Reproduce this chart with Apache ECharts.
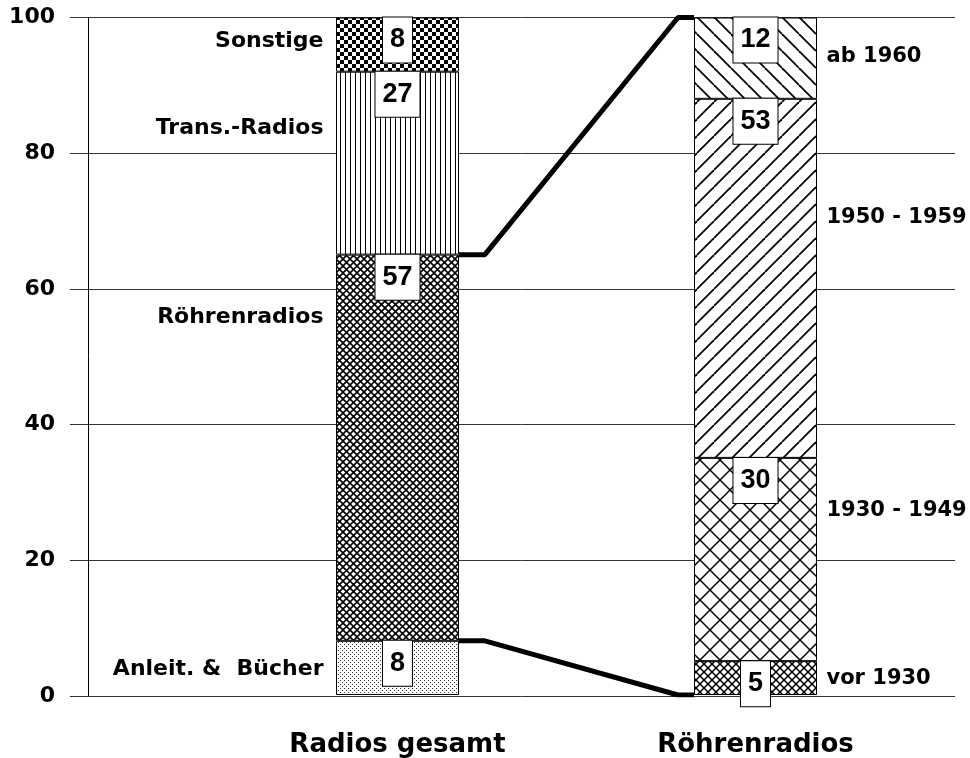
<!DOCTYPE html>
<html>
<head>
<meta charset="utf-8">
<script src="https://cdn.jsdelivr.net/npm/echarts@6/dist/echarts.min.js"></script>
<style>
  html, body { margin: 0; padding: 0; background: #fff; }
  #chart { width: 970px; height: 758px; }
</style>
</head>
<body>
<div id="chart"></div>
<script>
// Daten
const categories = ['Radios gesamt', 'Röhrenradios'];
const gesamtNames = ['Anleit. &  Bücher', 'Röhrenradios', 'Trans.-Radios', 'Sonstige'];
const gesamtValues = [8, 57, 27, 8];
const roehrenNames = ['vor 1930', '1930 - 1949', '1950 - 1959', 'ab 1960'];
const roehrenValues = [5, 30, 53, 12];
const yTicks = [0, 20, 40, 60, 80, 100];

// Beschriftungs-Höhen neben den Balken (Layout)
const gesamtLabelY = [3.8, 55.7, 83.6, 96.5];
const roehrenLabelY = [2.4, 27.2, 70.4, 94.3];
// Verbindungslinien: x-Positionen (Balkenrand, Knick, Knick, Balkenrand)
const linkX = [0.1718, 0.244, 0.7835, 0.8282];

const FONT = 'DejaVu Sans';

// Schraffur-Muster
function tile(size, draw) {
  const c = document.createElement('canvas');
  c.width = size; c.height = size;
  const ctx = c.getContext('2d');
  ctx.fillStyle = '#fff';
  ctx.fillRect(0, 0, size, size);
  ctx.fillStyle = '#000';
  ctx.strokeStyle = '#000';
  draw(ctx, size);
  return { image: c, repeat: 'repeat' };
}
function slash(ctx, s, w) {
  ctx.lineWidth = w;
  for (const k of [-s, 0, s]) {
    ctx.beginPath(); ctx.moveTo(k, s); ctx.lineTo(k + s, 0); ctx.stroke();
  }
}
function backslash(ctx, s, w) {
  ctx.lineWidth = w;
  for (const k of [-s, 0, s]) {
    ctx.beginPath(); ctx.moveTo(k, 0); ctx.lineTo(k + s, s); ctx.stroke();
  }
}
const patDots = tile(4, (ctx) => { ctx.fillStyle = '#333'; ctx.fillRect(0, 0, 1, 1); ctx.fillRect(2, 2, 1, 1); });
const patFineCross = tile(7, (ctx, s) => { slash(ctx, s, 1.6); backslash(ctx, s, 1.6); });
const patVert = tile(5, (ctx) => { ctx.fillRect(0, 0, 1, 5); });
const patChecker = tile(8, (ctx) => { ctx.fillRect(0, 0, 4, 4); ctx.fillRect(4, 4, 4, 4); });
const patSmallCross = tile(8, (ctx, s) => { slash(ctx, s, 1.5); backslash(ctx, s, 1.5); });
const patBigCross = tile(20, (ctx, s) => { slash(ctx, s, 1.5); backslash(ctx, s, 1.5); });
const patSlash = tile(17, (ctx, s) => { slash(ctx, s, 1.8); });
const patBack = tile(17, (ctx, s) => { backslash(ctx, s, 1.8); });

const gesamtPatterns = [patDots, patFineCross, patVert, patChecker];
const roehrenPatterns = [patSmallCross, patBigCross, patSlash, patBack];

const valueLabel = {
  show: true,
  position: 'insideTop',
  distance: 0,
  fontFamily: 'Liberation Sans',
  fontWeight: 'bold',
  fontSize: 27,
  color: '#000',
  backgroundColor: '#fff',
  borderColor: '#000',
  borderWidth: 1,
  padding: [9, 7, 9, 7]
};

function barSeries(name, value, idx, pattern) {
  const data = idx === 0 ? [value, '-'] : ['-', value];
  return {
    name: name,
    type: 'bar',
    stack: 'all',
    xAxisIndex: 1,
    yAxisIndex: 1,
    barWidth: 123,
    data: data,
    itemStyle: { color: pattern, borderColor: '#000', borderWidth: 1 },
    label: valueLabel,
    emphasis: { disabled: true },
    z: 3
  };
}

const series = [];
gesamtValues.forEach((v, i) => series.push(barSeries(gesamtNames[i], v, 0, gesamtPatterns[i])));
roehrenValues.forEach((v, i) => series.push(barSeries(roehrenNames[i], v, 1, roehrenPatterns[i])));

// Texte links / rechts der Balken
function sideSeries(names, ys, cat, pos, dist, size) {
  return {
    type: 'scatter',
    xAxisIndex: 1,
    yAxisIndex: 1,
    symbolSize: 0,
    itemStyle: { color: '#000' },
    data: names.map((n, i) => ({ name: n, value: [cat, ys[i]] })),
    label: {
      show: true,
      position: pos,
      distance: dist,
      formatter: '{b}',
      fontFamily: FONT,
      fontWeight: 'bold',
      fontSize: size,
      color: '#000',
      opacity: 1
    },
    emphasis: { disabled: true },
    silent: true
  };
}
series.push(sideSeries(gesamtNames, gesamtLabelY, categories[0], 'left', 74, 22));
series.push(sideSeries(roehrenNames, roehrenLabelY, categories[1], 'right', 71, 21));

// Verbindungslinien
const tubeTop = gesamtValues[0] + gesamtValues[1];
const total = roehrenValues.reduce((a, b) => a + b, 0);
const lowTop = gesamtValues[0];
const linkStyle = { color: '#000', width: 5 };
series.push({
  type: 'line',
  xAxisIndex: 2,
  yAxisIndex: 1,
  symbol: 'none',
  lineStyle: linkStyle,
  data: [[linkX[0], tubeTop], [linkX[1], tubeTop], [linkX[2], total], [linkX[3], total]],
  silent: true,
  z: 4
});
series.push({
  type: 'line',
  xAxisIndex: 2,
  yAxisIndex: 1,
  symbol: 'none',
  lineStyle: linkStyle,
  data: [[linkX[0], lowTop], [linkX[1], lowTop], [linkX[2], 0], [linkX[3], 0]],
  silent: true,
  z: 4
});

const chart = echarts.init(document.getElementById('chart'));
chart.setOption({
  backgroundColor: '#fff',
  animation: false,
  grid: [
    { left: 88, right: 15, top: 17.5, bottom: 62 },
    { left: 218.5, width: 716, top: 17.5, bottom: 62 }
  ],
  xAxis: [
    { gridIndex: 0, type: 'value', show: false, min: 0, max: 1 },
    {
      gridIndex: 1,
      type: 'category',
      data: categories,
      axisLine: { show: false },
      axisTick: { show: false },
      axisLabel: { fontFamily: FONT, fontWeight: 'bold', fontSize: 26, color: '#000', margin: 37 }
    },
    { gridIndex: 1, type: 'value', show: false, min: -0.5, max: 1.5 }
  ],
  yAxis: [
    {
      gridIndex: 0,
      type: 'value',
      min: yTicks[0],
      max: yTicks[yTicks.length - 1],
      interval: yTicks[1] - yTicks[0],
      axisLine: { show: true, lineStyle: { color: '#000', width: 1 } },
      axisTick: { show: true, length: 18, lineStyle: { color: '#333', width: 1 } },
      splitLine: { show: true, lineStyle: { color: '#333', width: 1 } },
      axisLabel: { fontFamily: FONT, fontWeight: 'bold', fontSize: 22, color: '#000', margin: 33 }
    },
    { gridIndex: 1, type: 'value', show: false, min: yTicks[0], max: yTicks[yTicks.length - 1] }
  ],
  series: series
});
</script>
</body>
</html>
